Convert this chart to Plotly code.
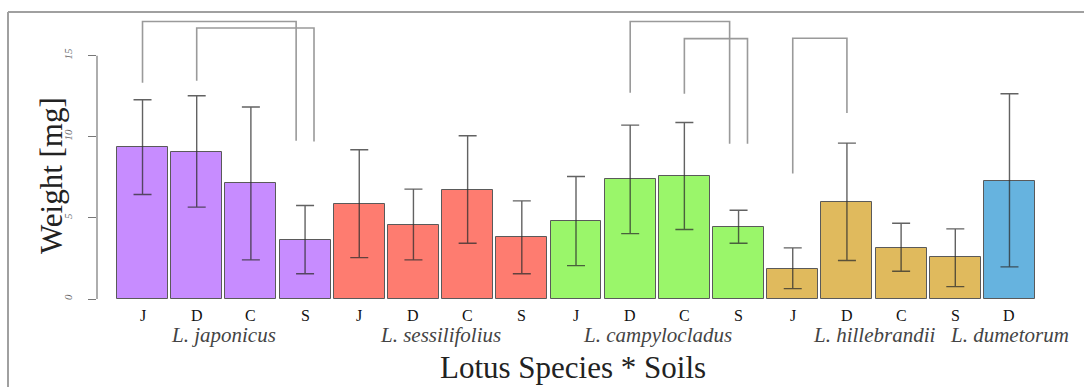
import plotly.graph_objects as go

# ---------------- data ----------------
soils = ["J", "D", "C", "S", "J", "D", "C", "S", "J", "D", "C", "S", "J", "D", "C", "S", "D"]
species_of_bar = ["jap"] * 4 + ["ses"] * 4 + ["cam"] * 4 + ["hil"] * 4 + ["dum"]
species_names = ["L. japonicus", "L. sessilifolius", "L. campylocladus", "L. hillebrandii", "L. dumetorum"]
species_keys = ["jap", "ses", "cam", "hil", "dum"]
weight_mean = [9.34, 9.09, 7.12, 3.64, 5.86, 4.59, 6.73, 3.81, 4.81, 7.39, 7.59, 4.44, 1.87, 5.99, 3.17, 2.61, 7.30]
err_upper = [12.28, 12.53, 11.83, 5.76, 9.20, 6.77, 10.06, 6.05, 7.55, 10.72, 10.88, 5.47, 3.15, 9.61, 4.67, 4.32, 12.65]
err_lower = [6.44, 5.66, 2.41, 1.56, 2.55, 2.41, 3.44, 1.56, 2.06, 4.03, 4.28, 3.44, 0.64, 2.37, 1.71, 0.76, 1.98]
y_ticks = [0, 5, 10, 15]

# significance brackets (bar index left/right, heights in mg)
bracket_left = [0, 1, 9, 10, 12]
bracket_right = [3, 3, 11, 11, 13]
bracket_top = [17.1, 16.7, 17.1, 16.05, 16.07]
bracket_left_end = [13.33, 13.46, 12.72, 12.65, 7.73]
bracket_right_end = [9.75, 9.71, 9.57, 9.57, 11.46]

# ---------------- styles ----------------
species_colors = {"jap": "#C78CFF", "ses": "#FE7C70", "cam": "#9AF66A", "hil": "#E0BA5D", "dum": "#66B3DF"}
SERIF = "Liberation Serif, Times New Roman, serif"

x = list(range(len(soils)))
fig = go.Figure()
fig.add_trace(go.Bar(
    x=x, y=weight_mean, width=0.94,
    marker=dict(color=[species_colors[s] for s in species_of_bar],
                line=dict(color="#5a5a5a", width=1)),
    error_y=dict(type="data", symmetric=False,
                 array=[u - m for u, m in zip(err_upper, weight_mean)],
                 arrayminus=[m - l for l, m in zip(err_lower, weight_mean)],
                 color="rgba(45,45,45,0.75)", thickness=1.4, width=9),
    showlegend=False, hoverinfo="skip",
))

# brackets
right_count = {}
for r in bracket_right:
    right_count[r] = right_count.get(r, 0) + 1
right_seen = {}
for l, r, top, le, re in zip(bracket_left, bracket_right, bracket_top, bracket_left_end, bracket_right_end):
    n = right_count[r]
    k = right_seen.get(r, 0)
    right_seen[r] = k + 1
    off = 0 if n == 1 else (-0.165 if k == 0 else 0.165)
    fig.add_trace(go.Scatter(
        x=[l, l, r + off, r + off], y=[le, top, top, re], mode="lines",
        line=dict(color="#9a9a9a", width=1.6), showlegend=False, hoverinfo="skip",
    ))

# y axis line (0..15 only)
fig.add_shape(type="line", xref="paper", yref="y", x0=0, x1=0, y0=y_ticks[0], y1=y_ticks[-1],
              line=dict(color="#777", width=1.2))

# frame lines
fig.add_shape(type="line", xref="paper", yref="paper",
              x0=(8 - 97) / 947, x1=(8 - 97) / 947, y0=(299 - 390) / 287, y1=(299 - 12) / 287,
              line=dict(color="#a0a0a0", width=2))
fig.add_shape(type="line", xref="paper", yref="paper",
              x0=(8 - 97) / 947, x1=(1090 - 97) / 947, y0=(299 - 12) / 287, y1=(299 - 12) / 287,
              line=dict(color="#a0a0a0", width=2))

# soil labels
for i, s in enumerate(soils):
    fig.add_annotation(x=i, y=0, xref="x", yref="paper", text=s, showarrow=False,
                       yanchor="middle", yshift=-16, font=dict(family=SERIF, size=16, color="#111"))

# species labels
for key, name in zip(species_keys, species_names):
    idx = [i for i, s in enumerate(species_of_bar) if s == key]
    cx = (idx[0] + idx[-1]) / 2
    fig.add_annotation(x=cx, y=0, xref="x", yref="paper", text=name, showarrow=False,
                       yanchor="middle", yshift=-36,
                       font=dict(family=SERIF, size=21, color="#444", style="italic"))

# axis titles
fig.add_annotation(x=(573 - 97) / 947, y=0, xref="paper", yref="paper", text="Lotus Species * Soils",
                   showarrow=False, yanchor="middle", yshift=-68,
                   font=dict(family=SERIF, size=31, color="#222"))
fig.add_annotation(x=0, y=(299 - 176) / 287, xref="paper", yref="paper", text="Weight [mg]",
                   showarrow=False, textangle=-90, xanchor="center", yanchor="middle", xshift=-46,
                   font=dict(family=SERIF, size=31, color="#222"))

fig.update_layout(
    width=1084, height=387, autosize=False,
    margin=dict(l=97, r=40, t=12, b=88),
    paper_bgcolor="white", plot_bgcolor="white",
    bargap=0,
)
fig.update_xaxes(range=[-0.84, 16.637], showgrid=False, zeroline=False, showline=False,
                 showticklabels=False, ticks="")
fig.update_yaxes(range=[0, 17.69], showgrid=False, zeroline=False, showline=False,
                 tickvals=y_ticks, ticks="outside", ticklen=8, tickcolor="#777", tickwidth=1.2,
                 tickangle=-90, ticklabelstandoff=12,
                 tickfont=dict(family=SERIF, size=11, color="#666", style="italic"))

fig.write_html("out.html", config={"displayModeBar": False},
               post_script="document.body.style.margin='0';document.body.style.overflow='hidden';")
